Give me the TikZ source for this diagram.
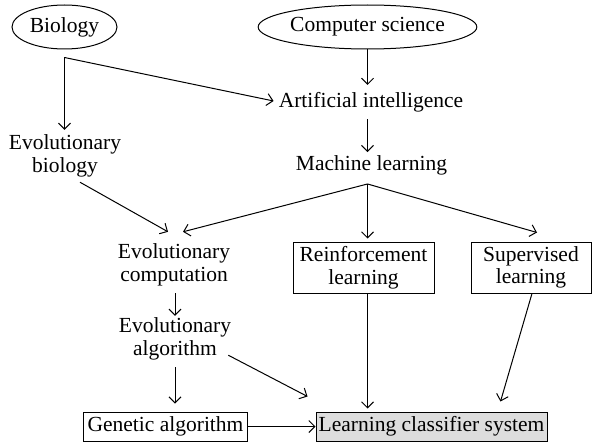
\documentclass[tikz,border=0pt]{standalone}
\usepackage{fontspec}
\setmainfont{Liberation Serif}
\usetikzlibrary{arrows.meta,shapes.geometric,calc}
\definecolor{boxgray}{RGB}{221,221,221}
\begin{document}
\begin{tikzpicture}[x=1pt,y=-1pt,
  font=\fontsize{21.5}{22.5}\selectfont,
  every node/.style={inner sep=0pt, align=center},
  oval/.style={draw, ellipse, line width=1pt, inner sep=0pt},
  framed/.style={draw, rectangle, line width=1pt, minimum height=29pt},
  twoline/.style={framed, minimum height=51pt},
  conn/.style={line width=1pt, -{Straight Barb[length=6pt,width=12pt]}}]
\useasboundingbox (0,0) rectangle (592,444);

% sources
\node[oval, minimum width=105pt, minimum height=44pt] (bio) at (64.5,27) {Biology};
\node[oval, minimum width=191pt, minimum height=44pt] (cs) at (367.5,27) {Computer science};

% intermediate fields
\node (ai) at (371,102) {Artificial intelligence};
\node (ml) at (371.5,165) {Machine learning};
\node (evbio) at (65,156) {Evolutionary\\biology};
\node (ec) at (174,265) {Evolutionary\\computation};
\node (ea) at (175,339) {Evolutionary\\algorithm};

% boxed methods
\node[twoline, minimum width=141pt] (rl) at (363.5,267.5) {Reinforcement\\learning};
\node[twoline, minimum width=120pt] (sl) at (531,267.5) {Supervised\\learning};
\node[framed, minimum width=164pt] (ga) at (165.5,426.5) {Genetic algorithm};
\node[framed, minimum width=231pt, fill=boxgray] (lcs) at (431.5,426.5) {Learning classifier system};

% branching points
\coordinate (bj) at ($(bio.south)+(0,8)$);
\coordinate (mj) at ($(cs.south |- ml.south)+(0,9)$);

% connectors
\draw[conn] (bj) -- ($(bj |- evbio.north)+(0,-5)$);
\draw[conn] (bj) -- ($(ai.west)+(-5,-1)$);
\draw[conn] (cs.south) -- ($(cs.south |- ai.north)+(0,-7)$);
\draw[conn] ($(cs.south |- ai.south)+(0,7)$) -- ($(cs.south |- ml.north)+(0,-3)$);
\draw[conn] (mj) -- ($(ec.north)+(9,-12)$);
\draw[conn] (mj) -- ($(mj |- rl.north)+(0,-3)$);
\draw[conn] (mj) -- ($(sl.north)+(6,-9)$);
\draw[conn] ($(evbio.south)+(15,5)$) -- ($(ec.north)+(-6,-12)$);
\draw[conn] ($(ec.south)+(1,7)$) -- ($(ea.north)+(0,-2)$);
\draw[conn] ($(ea.south)+(0,7)$) -- ($(ea.south |- ga.north)+(0,-8)$);
\draw[conn] ($(ea.south east)+(-3,-5)$) -- ($(lcs.north west)+(-8,-15)$);
\draw[conn] (ga.east) -- (lcs.west);
\draw[conn] (mj |- rl.south) -- ($(mj |- lcs.north)+(0,-3)$);
\draw[conn] ($(sl.south)+(1,0)$) -- ($(lcs.north)+(69,-10)$);
\end{tikzpicture}
\end{document}
